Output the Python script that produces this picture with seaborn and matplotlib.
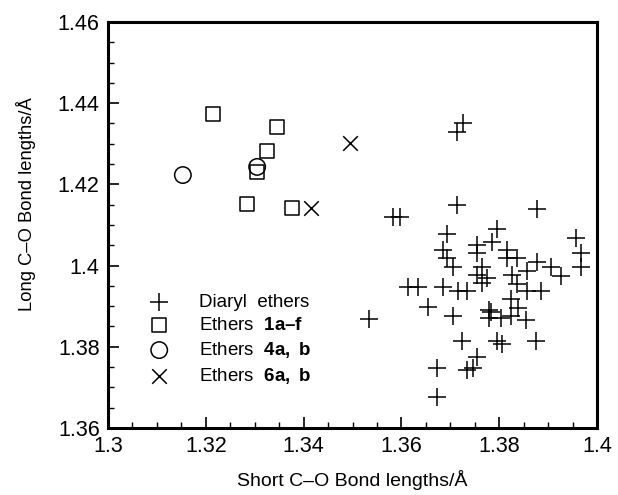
import seaborn as sns
import pandas as pd
import matplotlib.pyplot as plt
from matplotlib.ticker import MultipleLocator, FuncFormatter

# Diaryl ethers (plus markers)
diaryl_short = [1.3726, 1.3714, 1.3714, 1.3583, 1.3597, 1.3877, 1.3693, 1.3795, 1.3785, 1.3957,
                1.3685, 1.3693, 1.3706, 1.3755, 1.3755, 1.3816, 1.3816, 1.3836, 1.3967, 1.3967,
                1.3877, 1.3906, 1.3926, 1.3857, 1.3765, 1.3755, 1.3775, 1.3765, 1.3826, 1.3836,
                1.3857, 1.3885, 1.3685, 1.3716, 1.3734, 1.3613, 1.3634, 1.3654, 1.3534, 1.3706,
                1.3824, 1.3838, 1.3779, 1.3783, 1.3779, 1.3804, 1.3824, 1.3855, 1.3724, 1.3795,
                1.3806, 1.3875, 1.3755, 1.3673, 1.3734, 1.3746, 1.3673]
diaryl_long = [1.4351, 1.4329, 1.4149, 1.4120, 1.4120, 1.4139, 1.4078, 1.4090, 1.4058, 1.4068,
               1.4038, 1.4019, 1.3997, 1.4051, 1.4031, 1.4038, 1.4019, 1.4019, 1.4031, 1.3997,
               1.4009, 1.3997, 1.3974, 1.3987, 1.3997, 1.3977, 1.3969, 1.3957, 1.3977, 1.3954,
               1.3937, 1.3937, 1.3947, 1.3937, 1.3937, 1.3947, 1.3947, 1.3898, 1.3868, 1.3876,
               1.3918, 1.3896, 1.3891, 1.3886, 1.3871, 1.3871, 1.3876, 1.3866, 1.3814, 1.3814,
               1.3807, 1.3814, 1.3775, 1.3748, 1.3743, 1.3748, 1.3676]

# Ethers 1a-f (squares)
e1_short = [1.3215, 1.3346, 1.3325, 1.3305, 1.3284, 1.3376]
e1_long = [1.4373, 1.4341, 1.4282, 1.4231, 1.4152, 1.4142]

# Ethers 4a, b (circles)
e4_short = [1.3153, 1.3305]
e4_long = [1.4223, 1.4243]

# Ethers 6a, b (crosses)
e6_short = [1.3495, 1.3415]
e6_long = [1.4302, 1.4142]

plt.rcParams['font.family'] = ['Liberation Sans', 'DejaVu Sans']
plt.rcParams['mathtext.fontset'] = 'custom'
plt.rcParams['mathtext.rm'] = 'Liberation Sans'
plt.rcParams['mathtext.bf'] = 'Liberation Sans:bold'

fig = plt.figure(figsize=(6.18, 4.95), dpi=100)
ax = fig.add_axes([0.1748, 0.1354, 0.7912, 0.8202])

df_d = pd.DataFrame({'x': diaryl_short, 'y': diaryl_long})
df_1 = pd.DataFrame({'x': e1_short, 'y': e1_long})
df_4 = pd.DataFrame({'x': e4_short, 'y': e4_long})
df_6 = pd.DataFrame({'x': e6_short, 'y': e6_long})

sns.scatterplot(x='x', y='y', data=df_d, marker='+', s=150, color='black', linewidth=1.1,
                label='Diaryl  ethers', ax=ax)
sns.scatterplot(x='x', y='y', data=df_1, marker='s', s=110, facecolor='none', edgecolor='black',
                linewidth=1.1, label=r'Ethers  $\mathbf{1a–f}$', ax=ax)
sns.scatterplot(x='x', y='y', data=df_4, marker='o', s=140, facecolor='none', edgecolor='black',
                linewidth=1.1, label=r'Ethers  $\mathbf{4a,}$ $\mathbf{b}$', ax=ax)
sns.scatterplot(x='x', y='y', data=df_6, marker='x', s=110, color='black', linewidth=1.1,
                label=r'Ethers  $\mathbf{6a,}$ $\mathbf{b}$', ax=ax)

ax.set_xlim(1.3, 1.4)
ax.set_ylim(1.36, 1.46)
fmt = FuncFormatter(lambda v, p: f'{round(v, 2):g}')
ax.xaxis.set_major_locator(MultipleLocator(0.02))
ax.xaxis.set_minor_locator(MultipleLocator(0.005))
ax.yaxis.set_major_locator(MultipleLocator(0.02))
ax.yaxis.set_minor_locator(MultipleLocator(0.005))
ax.xaxis.set_major_formatter(fmt)
ax.yaxis.set_major_formatter(fmt)
ax.tick_params(which='major', direction='in', length=8, width=1.2, labelsize=15.5, pad=6)
ax.tick_params(which='minor', direction='in', length=4, width=1.0)
for sp in ax.spines.values():
    sp.set_linewidth(2.2)

ax.set_xlabel('Short C–O Bond lengths/Å', fontsize=14, labelpad=9)
ax.set_ylabel('Long C–O Bond lengths/Å', fontsize=13.2)
ax.yaxis.set_label_coords(-0.148, 0.552)

ax.legend(loc='upper left', bbox_to_anchor=(0.051, 0.35), frameon=False, fontsize=13.5,
          handletextpad=1.1, labelspacing=0.33, borderaxespad=0)

fig.savefig('out.png', dpi=100)
